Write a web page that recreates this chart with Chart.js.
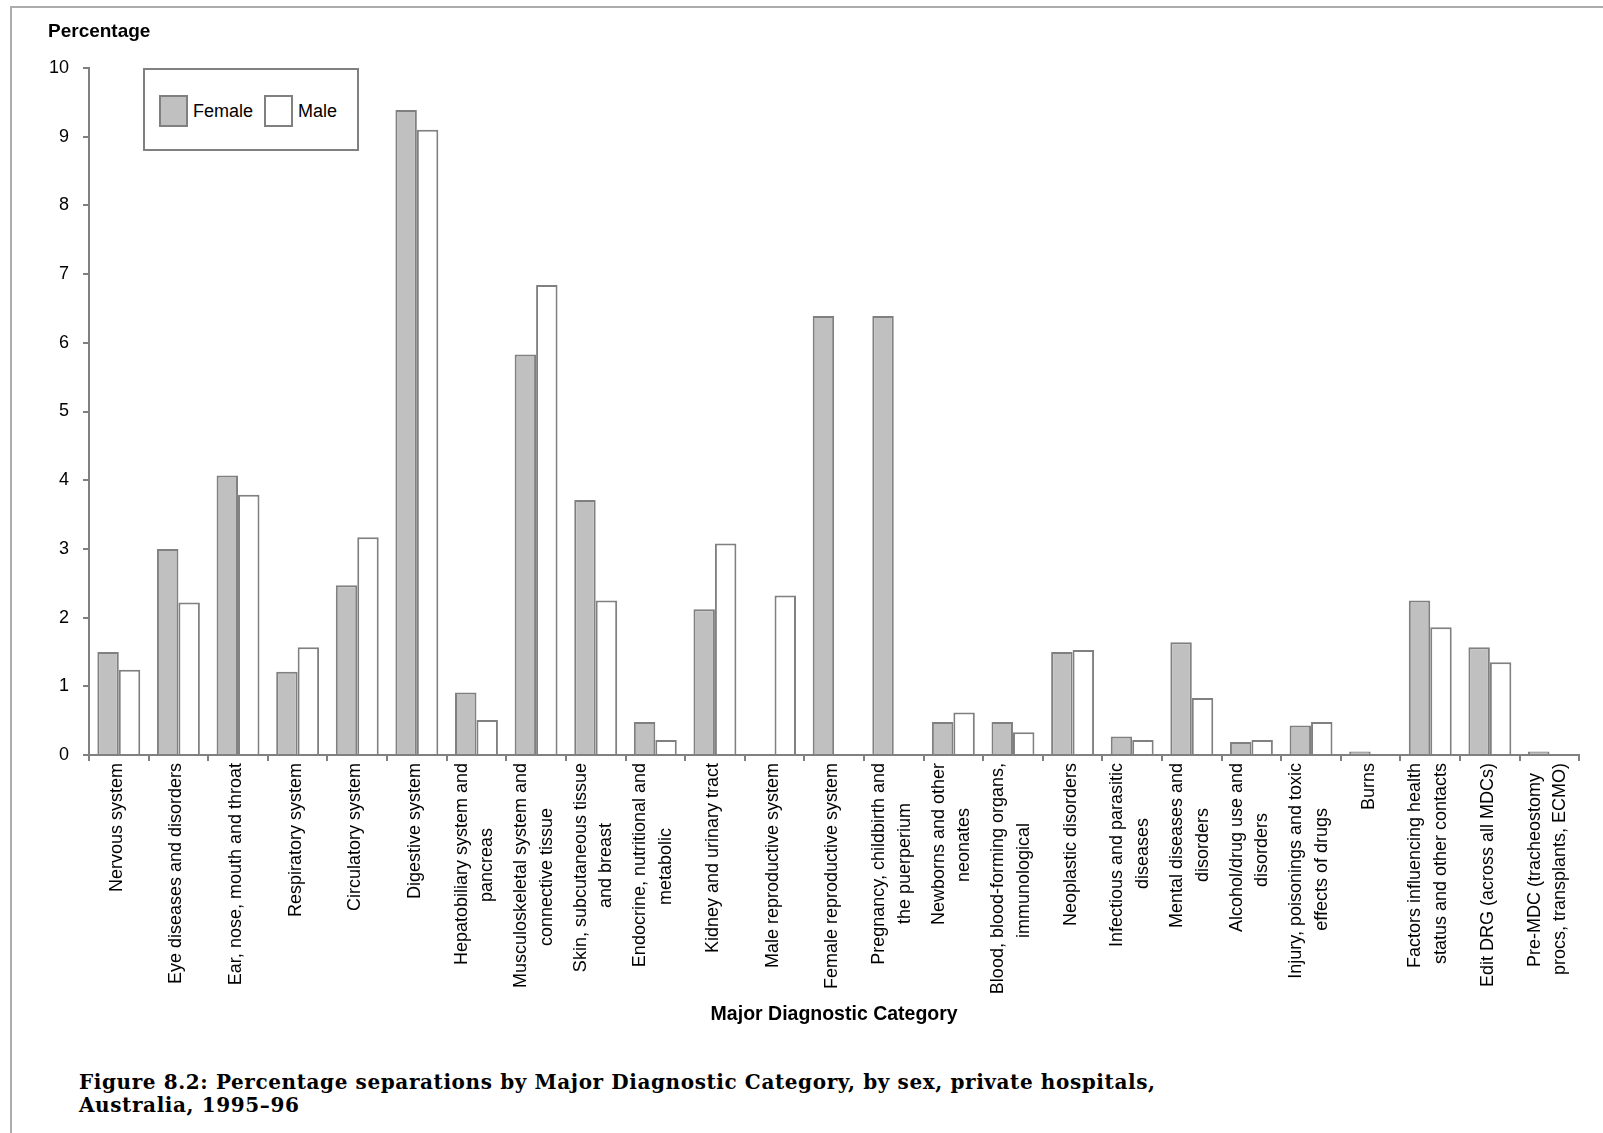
<!DOCTYPE html>
<html>
<head>
<meta charset="utf-8">
<script src="https://cdn.jsdelivr.net/npm/chart.js@4.4.1/dist/chart.umd.min.js"></script>
<style>
  html, body { margin: 0; padding: 0; background: #fff; overflow: hidden; }
  #page { position: relative; width: 1603px; height: 1133px; font-family: "Liberation Sans", Arial, sans-serif; }
  #frame { position: absolute; left: 10px; top: 6px; width: 1600px; height: 1200px;
    border-left: 2px solid #acacac; border-top: 2px solid #acacac; }
  #chart { position: absolute; left: 0; top: 0; }
  #ylabel { position: absolute; left: 48px; top: 20px; font-weight: bold; font-size: 19px; line-height: 22px; color: #000; }
  #legend { position: absolute; left: 143px; top: 68px; width: 212px; height: 79px;
    border: 2px solid #808080; background: #fff; }
  .item { position: absolute; top: 25px; height: 32px; font-size: 18px; line-height: 32px; color: #000; }
  .swatch { position: absolute; left: 0; top: 0; width: 25px; height: 28px; border: 2px solid #808080; }
  .item span { position: absolute; left: 34px; top: 0; white-space: nowrap; }
  #caption { position: absolute; left: 79px; top: 1071px; font-family: "DejaVu Serif", serif; font-weight: bold;
    font-size: 20px; line-height: 23px; letter-spacing: 0.6px; color: #000; }
</style>
</head>
<body>
<div id="page">
  <div id="frame"></div>
  <canvas id="chart" width="1603" height="1026"></canvas>
  <div id="ylabel">Percentage</div>
  <div id="legend"></div>
  <div id="caption">Figure 8.2: Percentage separations by Major Diagnostic Category, by sex, private hospitals,<br>Australia, 1995–96</div>
</div>
<script>
// Major Diagnostic Categories (multi-line labels as arrays)
const categories = [
  "Nervous system",
  "Eye diseases and disorders",
  "Ear, nose, mouth and throat",
  "Respiratory system",
  "Circulatory system",
  "Digestive system",
  ["Hepatobiliary system and", "pancreas"],
  ["Musculoskeletal system and", "connective tissue"],
  ["Skin, subcutaneous tissue", "and breast"],
  ["Endocrine, nutritional and", "metabolic"],
  "Kidney and urinary tract",
  "Male reproductive system",
  "Female reproductive system",
  ["Pregnancy, childbirth and", "the puerperium"],
  ["Newborns and other", "neonates"],
  ["Blood, blood-forming organs,", "immunological"],
  "Neoplastic disorders",
  ["Infectious and parasitic", "diseases"],
  ["Mental diseases and", "disorders"],
  ["Alcohol/drug use and", "disorders"],
  ["Injury, poisonings and toxic", "effects of drugs"],
  "Burns",
  ["Factors influencing health", "status and other contacts"],
  "Edit DRG (across all MDCs)",
  ["Pre-MDC (tracheostomy", "procs, transplants, ECMO)"],
];

// percentage of separations
const female = [1.5, 3.0, 4.07, 1.21, 2.47, 9.39, 0.91, 5.83, 3.71, 0.48, 2.12, 0, 6.39, 6.39, 0.48, 0.48, 1.5, 0.27, 1.64, 0.19, 0.43, 0.05, 2.25, 1.57, 0.05];
const male = [1.24, 2.22, 3.79, 1.57, 3.17, 9.1, 0.51, 6.84, 2.25, 0.22, 3.08, 2.32, 0, 0, 0.62, 0.33, 1.53, 0.22, 0.83, 0.22, 0.48, 0, 1.86, 1.35, 0];

const yTicks = [0, 1, 2, 3, 4, 5, 6, 7, 8, 9, 10];

const AXIS = "#808080";
const FONT = "'Liberation Sans', Arial, sans-serif";
const LABEL_SIZE = 18;
const HALF_LH = 0.71; // half of the real line spacing, in font sizes

// measure for centring the short line of a two-line label
const measure = document.createElement("canvas").getContext("2d");
measure.font = `${LABEL_SIZE}px ${FONT}`;

function tickLines(i) {
  const l = categories[i];
  if (!Array.isArray(l)) return ["", "", l];
  let [a, b] = l;
  const wa = measure.measureText(a).width;
  const wb = measure.measureText(b).width;
  const sp = measure.measureText(" ").width;
  const pad = " ".repeat(Math.max(0, Math.round(Math.abs(wa - wb) / 2 / sp)));
  if (wa > wb) b = b + pad;
  else a = a + pad;
  // lines spaced by two half-lines, centred on the tick
  return ["", a, "", b];
}

const ctx = document.getElementById("chart").getContext("2d");

const chart = new Chart(ctx, {
  type: "bar",
  data: {
    labels: categories,
    datasets: [
      {
        label: "Female",
        data: female,
        backgroundColor: "#c0c0c0",
        borderColor: AXIS,
        borderWidth: 2,
      },
      {
        label: "Male",
        data: male,
        backgroundColor: "#ffffff",
        borderColor: AXIS,
        borderWidth: 2,
      },
    ],
  },
  options: {
    responsive: false,
    animation: false,
    devicePixelRatio: 1,
    layout: { padding: { top: 68, right: 20, left: 0, bottom: 0 } },
    datasets: { bar: { barPercentage: 1.0, categoryPercentage: 0.72 } },
    plugins: {
      legend: { display: false },
      tooltip: { enabled: false },
    },
    scales: {
      x: {
        grid: {
          drawOnChartArea: false,
          drawTicks: true,
          tickLength: 6,
          color: AXIS,
          lineWidth: 2,
        },
        border: { color: AXIS, width: 2 },
        ticks: {
          autoSkip: false,
          minRotation: 90,
          maxRotation: 90,
          padding: 2,
          color: "#000",
          labelOffset: -2 * LABEL_SIZE * HALF_LH - 2,
          font: { family: FONT, size: LABEL_SIZE, lineHeight: HALF_LH },
          callback: (value, i) => tickLines(i),
        },
        title: {
          display: true,
          text: "Major Diagnostic Category",
          color: "#000",
          font: { family: FONT, size: 19.5, weight: "bold", lineHeight: 1.2 },
          padding: { top: 0, bottom: 0 },
        },
        afterFit: (scale) => {
          scale.height = 1026 - 755;
        },
      },
      y: {
        min: 0,
        max: 10,
        afterBuildTicks: (scale) => {
          scale.ticks = yTicks.map((v) => ({ value: v }));
        },
        grid: {
          drawOnChartArea: false,
          drawTicks: true,
          tickLength: 6,
          color: AXIS,
          lineWidth: 2,
        },
        border: { color: AXIS, width: 2 },
        ticks: {
          padding: 14,
          color: "#000",
          font: { family: FONT, size: 18 },
        },
        afterFit: (scale) => {
          scale.width = 89;
        },
      },
    },
  },
});

// HTML legend from the chart's datasets
const legendEl = document.getElementById("legend");
const offsets = [14, 119];
chart.data.datasets.forEach((ds, i) => {
  const item = document.createElement("div");
  item.className = "item";
  item.style.left = offsets[i] + "px";
  item.innerHTML = `<div class="swatch" style="background:${ds.backgroundColor};border-color:${ds.borderColor}"></div><span>${ds.label}</span>`;
  legendEl.appendChild(item);
});
</script>
</body>
</html>
